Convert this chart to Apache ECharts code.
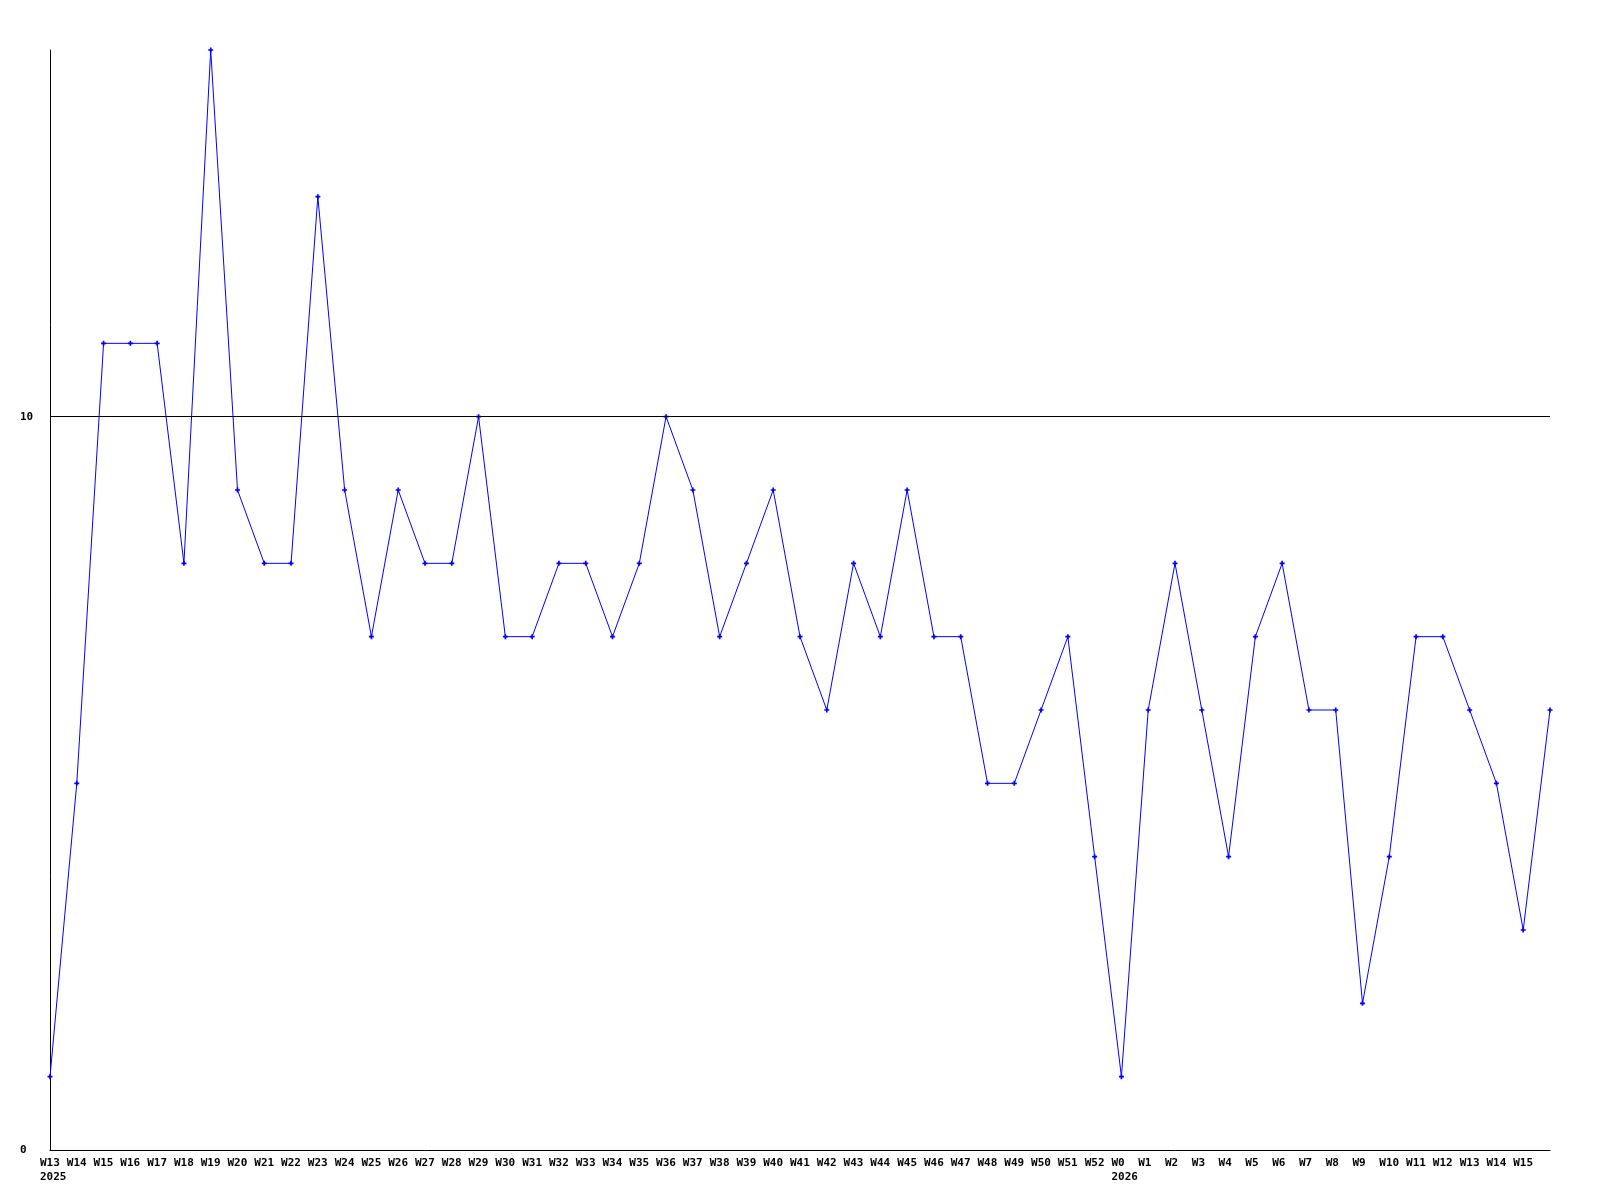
<!DOCTYPE html>
<html>
<head>
<meta charset="utf-8">
<script src="https://cdn.jsdelivr.net/npm/echarts@6/dist/echarts.min.js"></script>
<style>
html,body{margin:0;padding:0;background:#fff;}
#chart{width:1600px;height:1200px;}
</style>
</head>
<body>
<div id="chart"></div>
<script>
const weeks = ['W13','W14','W15','W16','W17','W18','W19','W20','W21','W22','W23','W24','W25','W26','W27','W28','W29','W30','W31','W32','W33','W34','W35','W36','W37','W38','W39','W40','W41','W42','W43','W44','W45','W46','W47','W48','W49','W50','W51','W52','W0','W1','W2','W3','W4','W5','W6','W7','W8','W9','W10','W11','W12','W13','W14','W15',''];
const years = {0:'2025', 40:'2026'};
const values = [1,5,11,11,11,8,15,9,8,8,13,9,7,9,8,8,10,7,7,8,8,7,8,10,9,7,8,9,7,6,8,7,9,7,7,5,5,6,7,4,1,6,8,6,4,7,8,6,6,2,4,7,7,6,5,3,6];
const yTicks = [0, 10];
const yMax = 15;

const cats = weeks.map((w, i) => i + '|' + w);
const font = {fontFamily: 'DejaVu Sans Mono', fontWeight: 'bold', fontSize: 11, color: '#000'};

const chart = echarts.init(document.getElementById('chart'), null, {renderer: 'canvas'});
chart.setOption({
  animation: false,
  backgroundColor: '#fff',
  grid: [
    {left: 50, right: 50, top: 50, bottom: 50, containLabel: false},
    {left: 40, right: 60, top: 50, bottom: 50, containLabel: false}
  ],
  xAxis: [
    {
      type: 'category', gridIndex: 0, data: cats, boundaryGap: false,
      axisLine: {show: true, onZero: false, lineStyle: {color: '#000', width: 1}},
      axisTick: {show: false}, axisLabel: {show: false}, splitLine: {show: false}
    },
    {
      type: 'category', gridIndex: 1, data: cats, boundaryGap: false,
      axisLine: {show: false}, axisTick: {show: false}, splitLine: {show: false},
      axisLabel: Object.assign({
        show: true, interval: 0, align: 'left', margin: 6, lineHeight: 14,
        formatter: function (v) {
          const i = parseInt(v.split('|')[0], 10);
          const w = weeks[i];
          return years[i] ? w + '\n' + years[i] : w;
        }
      }, font)
    }
  ],
  yAxis: [
    {
      type: 'value', gridIndex: 0, min: 0, max: yMax, interval: 10,
      axisLine: {show: true, lineStyle: {color: '#000', width: 1}},
      axisTick: {show: false}, splitLine: {show: false},
      axisLabel: Object.assign({
        show: true, align: 'left', margin: 30, showMaxLabel: false,
        formatter: function (v) { return yTicks.indexOf(v) >= 0 ? String(v) : ''; }
      }, font)
    },
    {
      type: 'value', gridIndex: 1, min: 0, max: yMax, show: false
    }
  ],
  series: [{
    type: 'line', xAxisIndex: 0, yAxisIndex: 0,
    data: values,
    symbol: 'path://M2,0H4V2H6V4H4V6H2V4H0V2H2Z',
    symbolSize: 5,
    showAllSymbol: true,
    itemStyle: {color: '#0000ff'},
    lineStyle: {color: '#0000ff', width: 1},
    emphasis: {disabled: true},
    markLine: {
      silent: true, symbol: ['none', 'none'], animation: false,
      label: {show: false},
      lineStyle: {color: '#000', width: 1, type: 'solid'},
      data: [{yAxis: 10}]
    },
    z: 3
  }]
});
</script>
</body>
</html>
